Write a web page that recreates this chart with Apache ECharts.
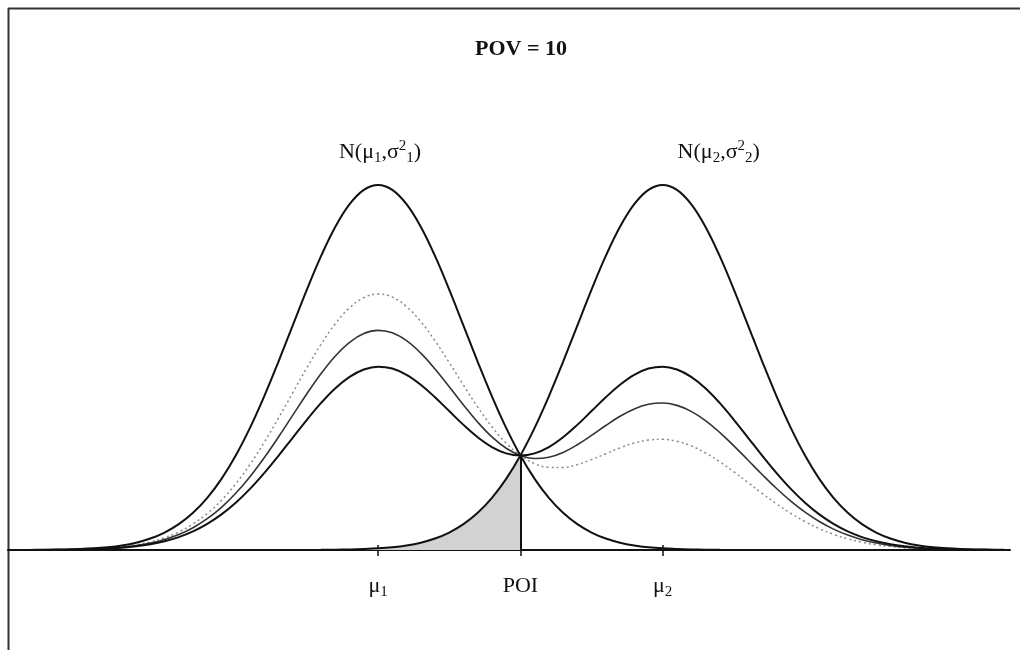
<!DOCTYPE html>
<html>
<head>
<meta charset="utf-8">
<script src="https://cdn.jsdelivr.net/npm/echarts@6/dist/echarts.min.js"></script>
<style>html,body{margin:0;padding:0;background:#fff;}#c{width:1020px;height:650px;}</style>
</head>
<body>
<div id="c"></div>
<script>
// x positions (mu1 = 0, POI = 5, mu2 = 10), step 0.5 from -13 to 22
const xs = [-13,-12.5,-12,-11.5,-11,-10.5,-10,-9.5,-9,-8.5,-8,-7.5,-7,-6.5,-6,-5.5,-5,-4.5,-4,-3.5,-3,-2.5,-2,-1.5,-1,-0.5,0,0.5,1,1.5,2,2.5,3,3.5,4,4.5,5,5.5,6,6.5,7,7.5,8,8.5,9,9.5,10,10.5,11,11.5,12,12.5,13,13.5,14,14.5,15,15.5,16,16.5,17,17.5,18,18.5,19,19.5,20,20.5,21,21.5,22];
// N(mu1, s1^2), relative density (peak = 100)
const n1 = [0.01,0.02,0.04,0.08,0.14,0.26,0.45,0.76,1.25,2.01,3.14,4.78,7.07,10.19,14.29,19.49,25.89,33.47,42.11,51.57,61.48,71.33,80.56,88.55,94.74,98.66,100,98.66,94.74,88.55,80.56,71.33,61.48,51.57,42.11,33.47,25.89,19.49,14.29,10.19,7.07,4.78,3.14,2.01,1.25,0.76,0.45,0.26,0.14,0.08,0.04,0.02,0.01,0,0,0,0,0,0,0,0,0,0,0,0,0,0,0,0,0,0];
// N(mu2, s2^2)
const n2 = [0,0,0,0,0,0,0,0,0,0,0,0,0,0,0,0,0,0,0,0,0.01,0.02,0.04,0.08,0.14,0.26,0.45,0.76,1.25,2.01,3.14,4.78,7.07,10.19,14.29,19.49,25.89,33.47,42.11,51.57,61.48,71.33,80.56,88.55,94.74,98.66,100,98.66,94.74,88.55,80.56,71.33,61.48,51.57,42.11,33.47,25.89,19.49,14.29,10.19,7.07,4.78,3.14,2.01,1.25,0.76,0.45,0.26,0.14,0.08,0.04];
// intermediate curves through the POI
const c50 = [0.01,0.01,0.02,0.04,0.07,0.13,0.23,0.38,0.63,1.01,1.57,2.39,3.54,5.10,7.15,9.75,12.95,16.74,21.06,25.79,30.75,35.68,40.30,44.32,47.44,49.46,50.23,49.71,48.00,45.28,41.85,38.06,34.28,30.88,28.20,26.48,25.89,26.48,28.20,30.88,34.28,38.06,41.85,45.28,48.00,49.71,50.23,49.46,47.44,44.32,40.30,35.68,30.75,25.79,21.06,16.74,12.95,9.75,7.15,5.10,3.54,2.39,1.57,1.01,0.63,0.38,0.23,0.13,0.07,0.04,0.02];
const c60 = [0.01,0.01,0.02,0.05,0.08,0.16,0.27,0.46,0.75,1.21,1.88,2.87,4.24,6.11,8.57,11.69,15.53,20.08,25.27,30.94,36.89,42.81,48.35,53.16,56.90,59.30,60.18,59.50,57.34,53.93,49.59,44.71,39.72,35.02,30.98,27.88,25.89,25.08,25.42,26.74,28.84,31.40,34.11,36.63,38.65,39.92,40.27,39.62,37.98,35.47,32.25,28.54,24.60,20.63,16.84,13.39,10.36,7.80,5.72,4.08,2.83,1.91,1.26,0.80,0.50,0.30,0.18,0.10,0.06,0.03,0.02];
const c70 = [0.01,0.01,0.03,0.06,0.10,0.18,0.32,0.53,0.88,1.41,2.20,3.35,4.95,7.13,10.00,13.64,18.12,23.43,29.48,36.10,43.04,49.94,56.40,62.01,66.36,69.14,70.14,69.29,66.69,62.59,57.33,51.37,45.16,39.16,33.76,29.28,25.89,23.68,22.64,22.60,23.39,24.75,26.37,27.97,29.30,30.13,30.32,29.78,28.52,26.62,24.20,21.41,18.45,15.47,12.63,10.04,7.77,5.85,4.29,3.06,2.12,1.43,0.94,0.60,0.38,0.23,0.14,0.08,0.04,0.02,0.01];
const tickValues = [0, 5, 10];
// tick labels: μ1, POI, μ2 (rich-text markup for subscripts)
const tickLabels = ['{b|μ}{s|1}', '{b|POI}', '{b|μ}{s|2}'];
const poi = 5;
const poiHeight = 25.89;
const titleText = 'POV = 10';
// N(μ1,σ²1), N(μ2,σ²2)
const curveLabels = ['{b|N(μ}{s|1}{b|,σ}{p|2}{s|1}{b|)}', '{b|N(μ}{s|2}{b|,σ}{p|2}{s|2}{b|)}'];

const pairs = arr => xs.map((x, i) => [x, arr[i]]);
const shade = xs.map((x, i) => [x, n2[i]]).filter(p => p[0] <= poi);
const serif = '"Liberation Serif", "DejaVu Serif", serif';
const rich = {
  b: {fontFamily: serif, fontSize: 22, lineHeight: 28, color: '#111', verticalAlign: 'middle'},
  s: {fontFamily: serif, fontSize: 15, lineHeight: 14, color: '#111', verticalAlign: 'bottom'},
  p: {fontFamily: serif, fontSize: 15, lineHeight: 15, color: '#111', verticalAlign: 'top', padding: [1, 0, 0, 0]}
};

const chart = echarts.init(document.getElementById('c'), null, {renderer: 'canvas'});
chart.setOption({
  animation: false,
  backgroundColor: '#fff',
  title: {
    text: titleText, left: 470, top: 33,
    textStyle: {fontFamily: serif, fontSize: 22, fontWeight: 'bold', color: '#111'}
  },
  graphic: [
    {type: 'line', shape: {x1: 8, y1: 8.5, x2: 1020, y2: 8.5}, style: {stroke: '#333', lineWidth: 2}},
    {type: 'line', shape: {x1: 8.5, y1: 8, x2: 8.5, y2: 650}, style: {stroke: '#333', lineWidth: 2}}
  ],
  grid: {left: 8, right: 10, top: 185, bottom: 100},
  xAxis: [{
    type: 'value', min: -13, max: 22.2,
    splitLine: {show: false},
    axisLine: {lineStyle: {color: '#111', width: 2}},
    axisTick: {show: true, customValues: tickValues, length: 6, lineStyle: {color: '#111', width: 1.5}},
    axisLabel: {
      show: true, customValues: tickValues, margin: 22,
      formatter: v => tickLabels[tickValues.indexOf(v)] || '',
      rich: rich
    }
  }, {
    type: 'value', min: -13, max: 22.2, position: 'bottom',
    splitLine: {show: false}, axisLine: {show: false}, axisLabel: {show: false},
    axisTick: {show: true, inside: true, customValues: tickValues, length: 5, lineStyle: {color: '#111', width: 1.5}}
  }],
  yAxis: {type: 'value', min: 0, max: 100, show: false},
  series: [
    {type: 'line', data: shade, smooth: 0.4, symbol: 'none', lineStyle: {width: 0},
     areaStyle: {color: '#d2d2d2', opacity: 1}, z: 1,
     markLine: {silent: true, symbol: 'none', label: {show: false},
       lineStyle: {color: '#111', width: 2, type: 'solid'},
       data: [[{coord: [poi, 0]}, {coord: [poi, poiHeight]}]]}},
    {type: 'line', data: pairs(c70), smooth: 0.4, symbol: 'none', lineStyle: {color: '#8a8a8a', width: 1.5, type: [2, 3]}, z: 2},
    {type: 'line', data: pairs(c60), smooth: 0.4, symbol: 'none', lineStyle: {color: '#333', width: 1.6}, z: 3},
    {type: 'line', data: pairs(c50), smooth: 0.4, symbol: 'none', lineStyle: {color: '#111', width: 2}, z: 4},
    {type: 'line', data: pairs(n1), smooth: 0.4, symbol: 'none', lineStyle: {color: '#111', width: 2}, z: 5,
     markPoint: {symbol: 'circle', symbolSize: 0,
       label: {show: true, formatter: curveLabels[0], offset: [2, -33], rich: rich},
       data: [{coord: [0, 100]}]}},
    {type: 'line', data: pairs(n2), smooth: 0.4, symbol: 'none', lineStyle: {color: '#111', width: 2}, z: 5,
     markPoint: {symbol: 'circle', symbolSize: 0,
       label: {show: true, formatter: curveLabels[1], offset: [56, -33], rich: rich},
       data: [{coord: [10, 100]}]}}
  ]
});
</script>
</body>
</html>
